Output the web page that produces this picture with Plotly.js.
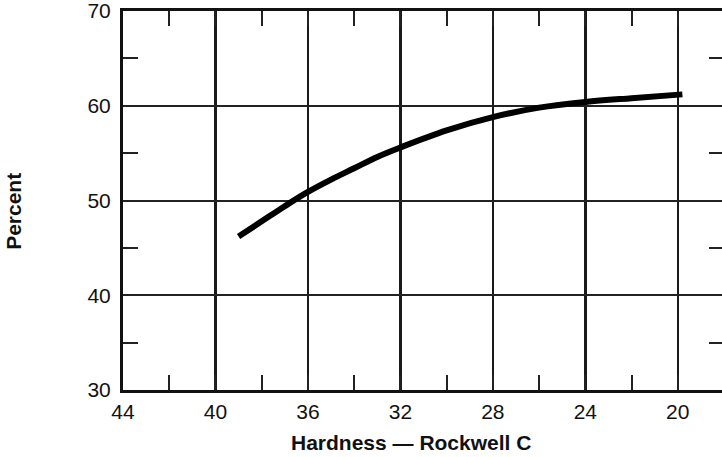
<!DOCTYPE html>
<html>
<head>
<meta charset="utf-8">
<script src="https://cdn.plot.ly/plotly-3.0.1.min.js"></script>
<style>
html,body{margin:0;padding:0;overflow:hidden;background:#fff;}
#chart{width:726px;height:457px;}
</style>
</head>
<body>
<div id="chart"></div>
<script>
const hardness = [39.0, 38.0, 37.0, 36.0, 35.0, 34.0, 33.0, 32.0, 30.0, 28.0, 26.0, 24.0, 22.0, 19.8];
const percent  = [46.2, 47.8, 49.4, 50.9, 52.2, 53.4, 54.6, 55.6, 57.4, 58.8, 59.8, 60.4, 60.8, 61.2];
const xTicks = [44, 40, 36, 32, 28, 24, 20];
const yTicks = [30, 40, 50, 60, 70];
const xTitle = "Hardness — Rockwell C";
const yTitle = "Percent";

const fontFam = "Liberation Sans, Arial, Helvetica, sans-serif";

const data = [{
  x: hardness, y: percent, type: 'scatter', mode: 'lines',
  line: {color: '#000', width: 6, shape: 'spline', smoothing: 1},
  hoverinfo: 'skip'
}];

const layout = {
  width: 726, height: 457,
  margin: {l: 123, r: 2, t: 11, b: 67},
  paper_bgcolor: '#fff', plot_bgcolor: '#fff',
  showlegend: false,
  font: {family: fontFam, color: '#111', size: 21},
  xaxis: {
    range: [44, 18.0], tickvals: xTicks, ticktext: xTicks.map(String),
    showgrid: true, gridcolor: '#1a1a1a', gridwidth: 2.5,
    showline: true, linecolor: '#111', linewidth: 3, mirror: 'allticks',
    ticks: 'inside', ticklen: 15, tickwidth: 2, tickcolor: '#222',
    minor: {dtick: 4, tick0: 42, ticks: 'inside', ticklen: 15, tickwidth: 2, tickcolor: '#222', showgrid: false},
    zeroline: false, ticklabelstandoff: 1, ticklabeloverflow: 'allow',
    tickfont: {family: fontFam, size: 21, color: '#111'}
  },
  yaxis: {
    range: [30, 70], tickvals: yTicks, ticktext: yTicks.map(String),
    showgrid: true, gridcolor: '#222', gridwidth: 2,
    showline: true, linecolor: '#111', linewidth: 3, mirror: 'allticks',
    ticks: 'inside', ticklen: 15, tickwidth: 2, tickcolor: '#222',
    minor: {dtick: 10, tick0: 35, ticks: 'inside', ticklen: 15, tickwidth: 2, tickcolor: '#222', showgrid: false},
    zeroline: false, ticklabelstandoff: 5, ticklabeloverflow: 'allow',
    tickfont: {family: fontFam, size: 21, color: '#111'}
  },
  annotations: [
    {text: '<b>' + xTitle + '</b>', xref: 'paper', yref: 'paper', x: 0.479, y: 0, yshift: -52,
     xanchor: 'center', yanchor: 'middle', showarrow: false, font: {family: fontFam, size: 21, color: '#111'}},
    {text: '<b>' + yTitle + '</b>', xref: 'paper', yref: 'paper', x: 0, xshift: -109, y: 0.47,
     xanchor: 'center', yanchor: 'middle', textangle: -90, showarrow: false, font: {family: fontFam, size: 21, color: '#111'}}
  ]
};

Plotly.newPlot('chart', data, layout, {displayModeBar: false, staticPlot: true});
</script>
</body>
</html>
